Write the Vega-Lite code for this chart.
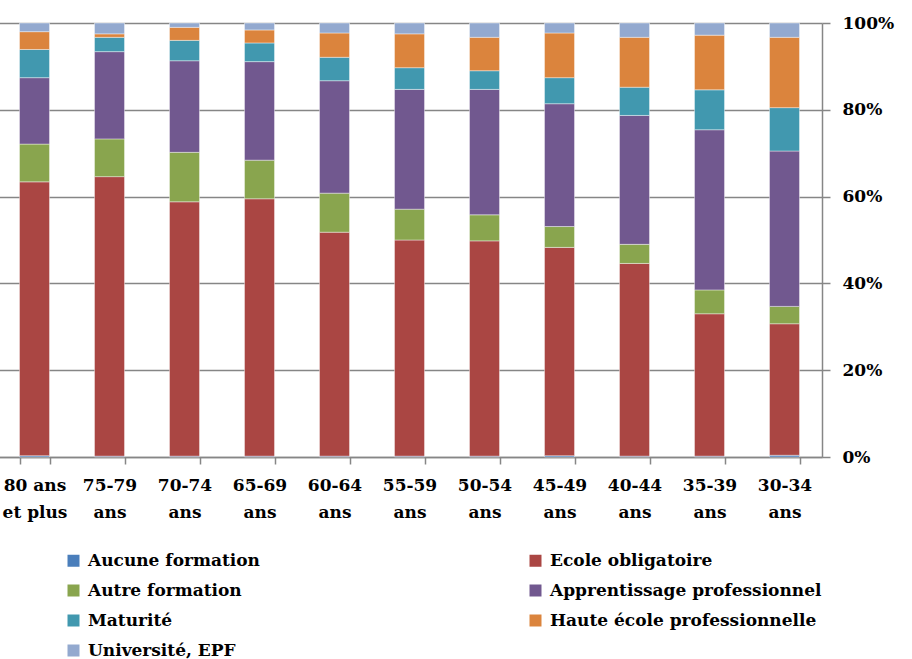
{
  "$schema": "https://vega.github.io/schema/vega-lite/v6.json",
  "autosize": {"type": "none"},
  "width": 825,
  "height": 434,
  "padding": {"left": -3, "top": 23, "right": 90, "bottom": 202},
  "background": "white",
  "config": {
    "view": {"stroke": null},
    "font": "DejaVu Serif"
  },
  "data": {
    "values": [
      {"age": "80 ans et plus", "formation": "Aucune formation", "part": 0.3},
      {"age": "80 ans et plus", "formation": "Ecole obligatoire", "part": 63.1},
      {"age": "80 ans et plus", "formation": "Autre formation", "part": 8.7},
      {"age": "80 ans et plus", "formation": "Apprentissage professionnel", "part": 15.3},
      {"age": "80 ans et plus", "formation": "Maturité", "part": 6.5},
      {"age": "80 ans et plus", "formation": "Haute école professionnelle", "part": 4.1},
      {"age": "80 ans et plus", "formation": "Université, EPF", "part": 2.0},

      {"age": "75-79 ans", "formation": "Aucune formation", "part": 0.2},
      {"age": "75-79 ans", "formation": "Ecole obligatoire", "part": 64.4},
      {"age": "75-79 ans", "formation": "Autre formation", "part": 8.7},
      {"age": "75-79 ans", "formation": "Apprentissage professionnel", "part": 20.1},
      {"age": "75-79 ans", "formation": "Maturité", "part": 3.3},
      {"age": "75-79 ans", "formation": "Haute école professionnelle", "part": 0.8},
      {"age": "75-79 ans", "formation": "Université, EPF", "part": 2.5},

      {"age": "70-74 ans", "formation": "Aucune formation", "part": 0.2},
      {"age": "70-74 ans", "formation": "Ecole obligatoire", "part": 58.6},
      {"age": "70-74 ans", "formation": "Autre formation", "part": 11.4},
      {"age": "70-74 ans", "formation": "Apprentissage professionnel", "part": 21.1},
      {"age": "70-74 ans", "formation": "Maturité", "part": 4.7},
      {"age": "70-74 ans", "formation": "Haute école professionnelle", "part": 3.0},
      {"age": "70-74 ans", "formation": "Université, EPF", "part": 1.0},

      {"age": "65-69 ans", "formation": "Aucune formation", "part": 0.2},
      {"age": "65-69 ans", "formation": "Ecole obligatoire", "part": 59.3},
      {"age": "65-69 ans", "formation": "Autre formation", "part": 8.9},
      {"age": "65-69 ans", "formation": "Apprentissage professionnel", "part": 22.7},
      {"age": "65-69 ans", "formation": "Maturité", "part": 4.3},
      {"age": "65-69 ans", "formation": "Haute école professionnelle", "part": 3.0},
      {"age": "65-69 ans", "formation": "Université, EPF", "part": 1.6},

      {"age": "60-64 ans", "formation": "Aucune formation", "part": 0.2},
      {"age": "60-64 ans", "formation": "Ecole obligatoire", "part": 51.6},
      {"age": "60-64 ans", "formation": "Autre formation", "part": 9.0},
      {"age": "60-64 ans", "formation": "Apprentissage professionnel", "part": 25.9},
      {"age": "60-64 ans", "formation": "Maturité", "part": 5.4},
      {"age": "60-64 ans", "formation": "Haute école professionnelle", "part": 5.6},
      {"age": "60-64 ans", "formation": "Université, EPF", "part": 2.3},

      {"age": "55-59 ans", "formation": "Aucune formation", "part": 0.2},
      {"age": "55-59 ans", "formation": "Ecole obligatoire", "part": 49.8},
      {"age": "55-59 ans", "formation": "Autre formation", "part": 7.1},
      {"age": "55-59 ans", "formation": "Apprentissage professionnel", "part": 27.6},
      {"age": "55-59 ans", "formation": "Maturité", "part": 5.0},
      {"age": "55-59 ans", "formation": "Haute école professionnelle", "part": 7.8},
      {"age": "55-59 ans", "formation": "Université, EPF", "part": 2.5},

      {"age": "50-54 ans", "formation": "Aucune formation", "part": 0.2},
      {"age": "50-54 ans", "formation": "Ecole obligatoire", "part": 49.6},
      {"age": "50-54 ans", "formation": "Autre formation", "part": 6.0},
      {"age": "50-54 ans", "formation": "Apprentissage professionnel", "part": 28.9},
      {"age": "50-54 ans", "formation": "Maturité", "part": 4.3},
      {"age": "50-54 ans", "formation": "Haute école professionnelle", "part": 7.7},
      {"age": "50-54 ans", "formation": "Université, EPF", "part": 3.3},

      {"age": "45-49 ans", "formation": "Aucune formation", "part": 0.3},
      {"age": "45-49 ans", "formation": "Ecole obligatoire", "part": 48.0},
      {"age": "45-49 ans", "formation": "Autre formation", "part": 4.8},
      {"age": "45-49 ans", "formation": "Apprentissage professionnel", "part": 28.3},
      {"age": "45-49 ans", "formation": "Maturité", "part": 6.0},
      {"age": "45-49 ans", "formation": "Haute école professionnelle", "part": 10.3},
      {"age": "45-49 ans", "formation": "Université, EPF", "part": 2.3},

      {"age": "40-44 ans", "formation": "Aucune formation", "part": 0.2},
      {"age": "40-44 ans", "formation": "Ecole obligatoire", "part": 44.4},
      {"age": "40-44 ans", "formation": "Autre formation", "part": 4.4},
      {"age": "40-44 ans", "formation": "Apprentissage professionnel", "part": 29.7},
      {"age": "40-44 ans", "formation": "Maturité", "part": 6.5},
      {"age": "40-44 ans", "formation": "Haute école professionnelle", "part": 11.5},
      {"age": "40-44 ans", "formation": "Université, EPF", "part": 3.3},

      {"age": "35-39 ans", "formation": "Aucune formation", "part": 0.2},
      {"age": "35-39 ans", "formation": "Ecole obligatoire", "part": 32.8},
      {"age": "35-39 ans", "formation": "Autre formation", "part": 5.5},
      {"age": "35-39 ans", "formation": "Apprentissage professionnel", "part": 36.9},
      {"age": "35-39 ans", "formation": "Maturité", "part": 9.2},
      {"age": "35-39 ans", "formation": "Haute école professionnelle", "part": 12.6},
      {"age": "35-39 ans", "formation": "Université, EPF", "part": 2.8},

      {"age": "30-34 ans", "formation": "Aucune formation", "part": 0.4},
      {"age": "30-34 ans", "formation": "Ecole obligatoire", "part": 30.3},
      {"age": "30-34 ans", "formation": "Autre formation", "part": 4.0},
      {"age": "30-34 ans", "formation": "Apprentissage professionnel", "part": 35.8},
      {"age": "30-34 ans", "formation": "Maturité", "part": 10.0},
      {"age": "30-34 ans", "formation": "Haute école professionnelle", "part": 16.2},
      {"age": "30-34 ans", "formation": "Université, EPF", "part": 3.3}
    ]
  },
  "transform": [
    {
      "calculate": "indexof(['Aucune formation', 'Ecole obligatoire', 'Autre formation', 'Apprentissage professionnel', 'Maturité', 'Haute école professionnelle', 'Université, EPF'], datum.formation)",
      "as": "rang"
    }
  ],
  "mark": {"type": "bar", "stroke": "#ffffff", "strokeWidth": 0.8, "strokeOpacity": 0.5},
  "encoding": {
    "x": {
      "field": "age",
      "type": "nominal",
      "sort": null,
      "title": null,
      "scale": {"paddingInner": 0.6, "paddingOuter": 0.3},
      "axis": {
        "orient": "bottom",
        "labelAngle": 0,
        "labelExpr": "datum.label == '80 ans et plus' ? ['80 ans', 'et plus'] : split(datum.label, ' ')",
        "labelFont": "DejaVu Serif",
        "labelFontWeight": "bold",
        "labelFontSize": 17,
        "labelColor": "#000000",
        "labelLineHeight": 27,
        "labelPadding": 13,
        "labelBaseline": "top",
        "tickBand": "extent",
        "tickSize": 7,
        "tickColor": "#868686",
        "tickWidth": 1.5,
        "domainColor": "#868686",
        "domainWidth": 1.5,
        "grid": false
      }
    },
    "y": {
      "field": "part",
      "type": "quantitative",
      "stack": "normalize",
      "title": null,
      "scale": {"domain": [0, 1], "nice": false},
      "axis": {
        "orient": "right",
        "values": [0, 0.2, 0.4, 0.6, 0.8, 1],
        "format": ".0%",
        "labelFont": "DejaVu Serif",
        "labelFontWeight": "bold",
        "labelFontSize": 17,
        "labelColor": "#000000",
        "labelPadding": 12,
        "tickSize": 8,
        "tickColor": "#868686",
        "tickWidth": 1.5,
        "domainColor": "#868686",
        "domainWidth": 1.5,
        "grid": true,
        "gridColor": "#868686",
        "gridWidth": 1.5
      }
    },
    "color": {
      "field": "formation",
      "type": "nominal",
      "scale": {
        "domain": ["Aucune formation", "Ecole obligatoire", "Autre formation", "Apprentissage professionnel", "Maturité", "Haute école professionnelle", "Université, EPF"],
        "range": ["#4a7ebb", "#aa4643", "#89a54e", "#71588f", "#4198af", "#db843d", "#93a9cf"]
      },
      "legend": {
        "title": null,
        "orient": "none",
        "legendX": 68,
        "legendY": 529,
        "direction": "horizontal",
        "columns": 2,
        "columnPadding": 267,
        "rowPadding": 12,
        "symbolType": "square",
        "symbolSize": 144,
        "symbolStrokeWidth": 0,
        "labelOffset": 6,
        "labelFont": "DejaVu Serif",
        "labelFontWeight": "bold",
        "labelFontSize": 17,
        "labelColor": "#000000",
        "labelLimit": 400
      }
    },
    "order": {"field": "rang", "type": "quantitative", "sort": "ascending"}
  }
}
